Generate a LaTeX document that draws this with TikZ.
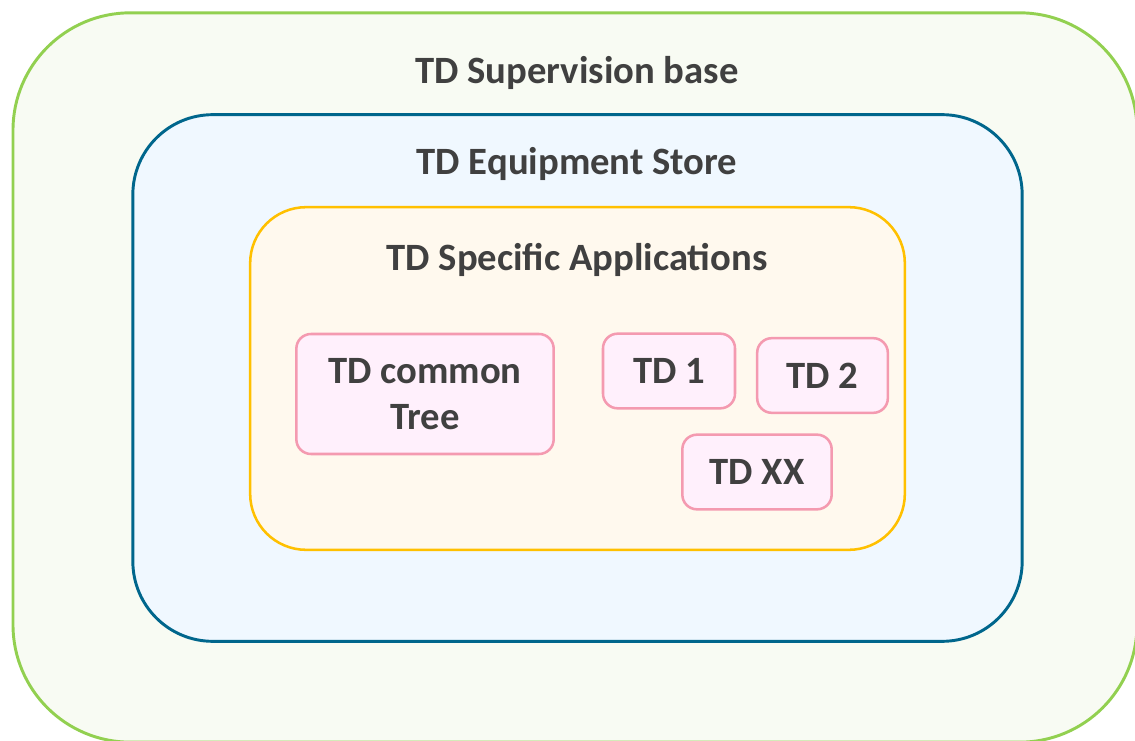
\documentclass[tikz,border=0pt]{standalone}
\usepackage{fontspec}
\setmainfont{Carlito}
\definecolor{basegreen}{HTML}{92D050}
\definecolor{basefill}{HTML}{F8FBF3}
\definecolor{storeblue}{HTML}{00668C}
\definecolor{storefill}{HTML}{F0F8FF}
\definecolor{appyellow}{HTML}{FFC000}
\definecolor{appfill}{HTML}{FFF9EE}
\definecolor{tdpink}{HTML}{F49AB0}
\definecolor{tdfill}{HTML}{FFF0FC}
\definecolor{textgray}{HTML}{404040}
\begin{document}
\begin{tikzpicture}[x=0.75pt,y=-0.75pt]
    \tikzset{layer/.style= {draw,
                            rectangle,
                            line width=2.2pt,
                            inner sep=0pt},
             title/.style= {font=\bfseries\fontsize{29}{34}\selectfont,
                            text=textgray},
             td/.style=    {draw=tdpink,
                            fill=tdfill,
                            rectangle,
                            rounded corners=11pt,
                            line width=1.9pt,
                            align=center,
                            inner sep=0pt,
                            font=\bfseries\fontsize{29}{34}\selectfont,
                            text=textgray},
            }
    \useasboundingbox (0,0) rectangle (1135,741);
    \path
    (575,377.5) node[layer,draw=basegreen,fill=basefill,rounded corners=88pt,
                     minimum width=843pt,minimum height=547pt](base) {}
    (577.5,378) node[layer,draw=storeblue,fill=storefill,rounded corners=60pt,
                     minimum width=667pt,minimum height=395pt](store) {}
    (577.5,378.5) node[layer,draw=appyellow,fill=appfill,rounded corners=42pt,line width=1.9pt,
                     minimum width=491pt,minimum height=257pt](apps) {}
    (577,73)    node[title](tbase) {TD Supervision base}
    (577,164)   node[title](tstore) {TD Equipment Store}
    (577,260)   node[title](tapps) {TD Specific Applications}
    (425,394)   node[td,minimum width=193pt,minimum height=90pt](tree) {TD common\\Tree}
    (669,371)   node[td,minimum width=99pt,minimum height=56pt](td1) {TD 1}
    (822.5,375.5) node[td,minimum width=98pt,minimum height=56pt](td2) {TD 2}
    (757,472)   node[td,minimum width=112pt,minimum height=56pt](tdxx) {TD XX}
    ;
\end{tikzpicture}
\end{document}
